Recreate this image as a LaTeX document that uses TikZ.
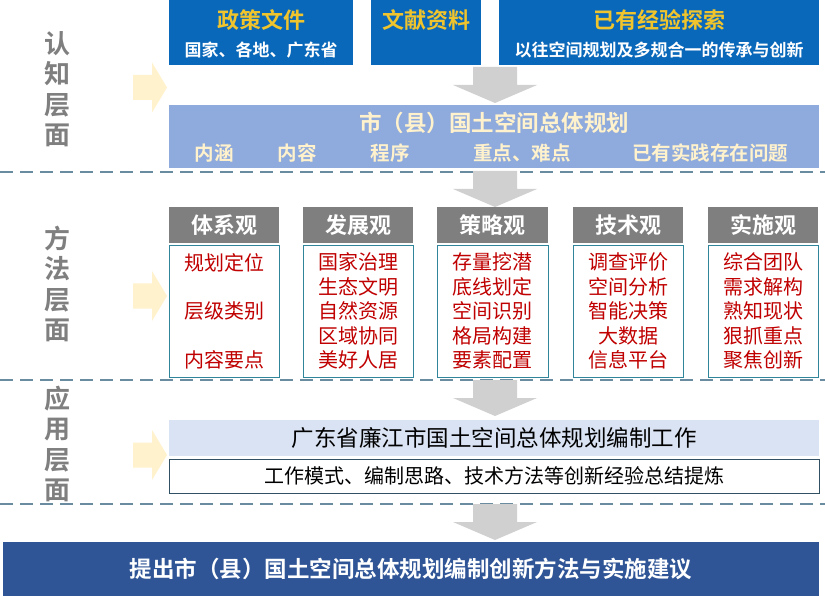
\documentclass[tikz,border=0pt]{standalone}
\usepackage{fontspec}
\setmainfont{Noto Sans CJK SC}[BoldFont={Noto Sans CJK SC Bold}]
\definecolor{srcblue}{RGB}{10,104,186}
\definecolor{srcgold}{RGB}{240,196,45}
\definecolor{planblue}{RGB}{143,170,220}
\definecolor{plancream}{RGB}{255,242,204}
\definecolor{sepcolor}{RGB}{105,140,160}
\definecolor{headgray}{RGB}{127,127,127}
\definecolor{boxteal}{RGB}{49,133,155}
\definecolor{itemred}{RGB}{192,0,0}
\definecolor{casebg}{RGB}{218,227,243}
\definecolor{caseline}{RGB}{50,80,100}
\definecolor{resultblue}{RGB}{47,85,151}
\definecolor{arrowgray}{RGB}{208,208,208}
\definecolor{hintyellow}{RGB}{255,242,204}
\newcommand\fsize[1]{\fontsize{#1}{#1}\selectfont}
\tikzset{
  yarrow/.pic={\fill[hintyellow] (-17,-12.5) -- (2,-12.5) -- (2,-25) -- (17,0) -- (2,25) -- (2,12.5) -- (-17,12.5) -- cycle;},
  garrow/.pic={\fill[arrowgray] (-22,0) -- (22,0) -- (22,18) -- (42,18) -- (0,36) -- (-42,18) -- (-22,18) -- cycle;}
}
\begin{document}
\begin{tikzpicture}[x=1pt,y=-1pt,
    levellabel/.style={align=center,text=headgray,font=\fontsize{26}{30.5}\selectfont\bfseries,inner sep=0},
    srcbox/.style={fill=srcblue,minimum height=65,inner sep=0},
    srctitle/.style={text=srcgold,font=\fsize{22}\bfseries,inner sep=0},
    srcsub/.style={text=white,font=\fsize{17}\bfseries,inner sep=0},
    planitem/.style={text=plancream,font=\fsize{19.5}\bfseries,inner sep=0},
    headbox/.style={fill=headgray,text=white,font=\fsize{22}\bfseries,minimum width=110,minimum height=36,inner sep=0},
    bodybox/.style={draw=boxteal,line width=0.8pt,fill=white,text=itemred,align=center,minimum width=110,minimum height=132,inner sep=0},
    sepline/.style={draw=sepcolor,line width=1.6pt,dash pattern=on 12.5pt off 7.5pt}]
\useasboundingbox (0,0) rectangle (825,596);
\fill[white] (0,0) rectangle (825,596);
% separators
\draw[sepline] (0,172) -- (825,172);
\draw[sepline] (0,380) -- (825,380);
\draw[sepline] (0,504) -- (825,504);
% level labels and hint arrows
\node[levellabel] (know) at (57,89) {认\\知\\层\\面};
\node[levellabel] (method) at (57,284) {方\\法\\层\\面};
\node[levellabel] (apply) at (57,444) {应\\用\\层\\面};
\pic at (150,87.5) {yarrow};
\pic at (150,296) {yarrow};
\pic at (150,455) {yarrow};
% down arrows
\pic at (495,67) {garrow};
\pic at (495,171) {garrow};
\pic at (495,380) {garrow};
\pic at (495,504) {garrow};
% sources
\node[srcbox,minimum width=184] (policy) at (261,32.5) {};
\node[srctitle] (policyt) at (261,20) {政策文件};
\node[srcsub] (policys) at (261,50) {国家、各地、广东省};
\node[srcbox,minimum width=110] (lit) at (426,32.5) {};
\node[srctitle] (litt) at (426,20) {文献资料};
\node[srcbox,minimum width=320] (exp) at (659,32.5) {};
\node[srctitle] (expt) at (659,20) {已有经验探索};
\node[srcsub] (exps) at (659,50) {以往空间规划及多规合一的传承与创新};
% plan box
\node[fill=planblue,minimum width=650,minimum height=63,inner sep=0] (plan) at (494,136.5) {};
\node[planitem,font=\fsize{22.5}\bfseries] (plant) at (494,123) {市（县）国土空间总体规划};
\node[planitem] (p1) at (214,153) {内涵};
\node[planitem] (p2) at (297,153) {内容};
\node[planitem] (p3) at (390,153) {程序};
\node[planitem] (p4) at (522,153) {重点、难点};
\node[planitem] (p5) at (710,153) {已有实践存在问题};
% five views
\node[headbox] (h1) at (224,225) {体系观};
\node[headbox] (h2) at (358,225) {发展观};
\node[headbox,minimum width=111] (h3) at (492.5,225) {策略观};
\node[headbox] (h4) at (628,225) {技术观};
\node[headbox] (h5) at (763,225) {实施观};
\node[bodybox,font=\fontsize{20}{48.5}\selectfont] (b1) at (224,311) {规划定位\\层级类别\\内容要点};
\node[bodybox,font=\fontsize{20}{24.5}\selectfont] (b2) at (358,311) {国家治理\\生态文明\\自然资源\\区域协同\\美好人居};
\node[bodybox,minimum width=111,font=\fontsize{20}{24.5}\selectfont] (b3) at (492.5,311) {存量挖潜\\底线划定\\空间识别\\格局构建\\要素配置};
\node[bodybox,font=\fontsize{20}{24.5}\selectfont] (b4) at (628,311) {调查评价\\空间分析\\智能决策\\大数据\\信息平台};
\node[bodybox,font=\fontsize{20}{24.5}\selectfont] (b5) at (763,311) {综合团队\\需求解构\\熟知现状\\狠抓重点\\聚焦创新};
% application
\node[fill=casebg,minimum width=650,minimum height=36,inner sep=0,font=\fsize{22.5}] (case) at (494,438) {广东省廉江市国土空间总体规划编制工作};
\node[draw=caseline,line width=0.8pt,fill=white,minimum width=650,minimum height=34,inner sep=0,font=\fsize{20}] (sum) at (494,476) {工作模式、编制思路、技术方法等创新经验总结提炼};
% result
\node[fill=resultblue,text=white,minimum width=816,minimum height=54,inner sep=0,font=\fsize{22.5}\bfseries] (result) at (411,569) {提出市（县）国土空间总体规划编制创新方法与实施建议};
\end{tikzpicture}
\end{document}
